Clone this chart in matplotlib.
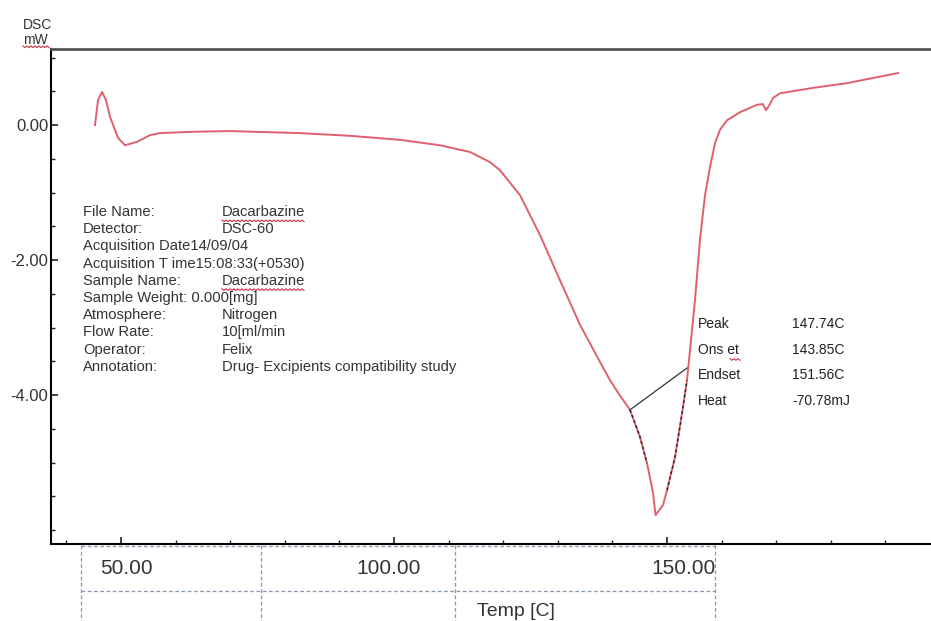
import matplotlib.pyplot as plt
from matplotlib.lines import Line2D
from matplotlib.ticker import MultipleLocator
import numpy as np

plt.rcParams['font.family'] = ['Liberation Sans', 'DejaVu Sans']

# DSC curve (temperature in C, heat flow in mW)
temp = [45.24, 45.79, 46.52, 47.25, 47.99, 49.45, 50.73, 52.93, 55.31, 57.14,
        63.19, 69.96, 82.78, 91.94, 101.10, 108.42, 113.92, 117.58, 119.41, 123.08,
        126.74, 130.40, 134.07, 137.73, 139.56, 141.39, 143.22, 145.05, 146.34, 147.44,
        147.90, 149.27, 150.00, 151.47, 152.93, 153.66, 154.40, 155.13, 156.04, 156.96,
        157.88, 158.79, 159.71, 160.99, 163.37, 166.48, 167.58, 168.13, 168.86, 169.41,
        170.70, 176.74, 182.97, 192.31]
dsc = [0.00, 0.37, 0.49, 0.37, 0.12, -0.19, -0.30, -0.25, -0.15, -0.12,
       -0.10, -0.09, -0.12, -0.16, -0.22, -0.30, -0.40, -0.55, -0.67, -1.04,
       -1.63, -2.30, -2.96, -3.51, -3.78, -4.01, -4.22, -4.62, -5.01, -5.45,
       -5.78, -5.63, -5.41, -4.92, -4.18, -3.78, -3.19, -2.59, -1.70, -1.04,
       -0.62, -0.27, -0.07, 0.07, 0.19, 0.30, 0.31, 0.22, 0.31, 0.40,
       0.47, 0.55, 0.62, 0.77]

# integration baseline (onset side -> endset side)
base_t = [143.22, 153.66]
base_v = [-4.22, -3.60]

y_ticks = [0, -2, -4]
y_labels = ["0.00", "-2.00", "-4.00"]
x_labels = ["50.00", "100.00", "150.00"]

info_keys = ["File Name:", "Detector:", "Acquisition Date14/09/04",
             "Acquisition T ime15:08:33(+0530)", "Sample Name:",
             "Sample Weight: 0.000[mg]", "Atmosphere:", "Flow Rate:",
             "Operator:", "Annotation:"]
info_vals = ["Dacarbazine", "DSC-60", "", "", "Dacarbazine", "",
             "Nitrogen", "10[ml/min", "Felix", "Drug- Excipients compatibility study"]

res_keys = ["Peak", "Ons et", "Endset", "Heat"]
res_vals = ["147.74C", "143.85C", "151.56C", "-70.78mJ"]

W, H = 931, 621
fig = plt.figure(figsize=(W / 100, H / 100), dpi=100)


def fx(x):
    return x / W


def fy(y):
    return 1 - y / H


ax = fig.add_axes([fx(51), fy(544), (W - 51) / W, (544 - 49) / H])
ax.set_xlim(37.18, 198.35)
ax.set_ylim(-6.207, 1.126)

red = "#e0606e"
ax.plot(temp, dsc, color=red, lw=1.4, zorder=3)

# dark dotted overlay on the flanks of the peak
t_arr = np.array(temp)
v_arr = np.array(dsc)
left = (t_arr >= base_t[0]) & (t_arr <= 147.0)
right = (t_arr >= 150.0) & (t_arr <= base_t[1])
ax.plot(t_arr[left], v_arr[left], color="#222222", lw=1.0, ls=(0, (2, 2)), zorder=4)
ax.plot(t_arr[right], v_arr[right], color="#222222", lw=1.0, ls=(0, (2, 2)), zorder=4)
ax.plot(base_t, base_v, color="#333333", lw=0.9, zorder=4)

# axes styling
ax.spines["right"].set_visible(False)
ax.spines["left"].set_linewidth(1.5)
ax.spines["bottom"].set_linewidth(1.5)
ax.spines["top"].set_linewidth(2.0)
ax.spines["top"].set_color("#555555")

ax.xaxis.set_major_locator(MultipleLocator(50))
ax.xaxis.set_minor_locator(MultipleLocator(10))
ax.set_yticks(y_ticks)
ax.set_yticklabels(y_labels)
ax.yaxis.set_minor_locator(MultipleLocator(0.5))
ax.tick_params(axis="both", which="both", direction="in", colors="#222222")
ax.tick_params(axis="x", which="major", length=5, width=1.2, labelbottom=False)
ax.tick_params(axis="x", which="minor", length=3, width=1)
ax.tick_params(axis="y", which="major", length=5, width=1.2, pad=2,
               labelsize=12, labelcolor="#333333")
ax.tick_params(axis="y", which="minor", length=3, width=1)

# y axis title
fig.text(fx(23), fy(25), "DSC", fontsize=10, color="#333333", va="center", ha="left")
fig.text(fx(23), fy(40), "mW", fontsize=10, color="#333333", va="center", ha="left")


def wavy(x0, x1, y):
    xs = np.arange(x0, x1 + 1, 2.0)
    ys = y + np.where(np.arange(len(xs)) % 2 == 0, 0, 1.6)
    fig.add_artist(Line2D(fx(xs), fy(ys), color="#d03040", lw=0.8))


wavy(23, 50, 46)

# info block
y0, dy = 212, 17.2
for i, (k, v) in enumerate(zip(info_keys, info_vals)):
    yy = y0 + i * dy
    ax.text(fx(83), fy(yy), k, transform=fig.transFigure, fontsize=10.6,
            color="#333333", va="center", ha="left")
    if v:
        ax.text(fx(222), fy(yy), v, transform=fig.transFigure, fontsize=10.6,
                color="#333333", va="center", ha="left")
wavy(222, 305, y0 + 8)
wavy(222, 305, y0 + 4 * dy + 8)

# peak results
for i, (k, v) in enumerate(zip(res_keys, res_vals)):
    yy = 324 + i * 25.7
    fig.text(fx(698), fy(yy), k, fontsize=10, color="#222222", va="center", ha="left")
    fig.text(fx(792), fy(yy), v, fontsize=10, color="#222222", va="center", ha="left")
wavy(730, 740, 324 + 25.7 + 9)

# bottom label table
grid_c = "#8797ac"
for x in [81, 261, 455, 715]:
    fig.add_artist(Line2D([fx(x), fx(x)], [fy(545), 0], color=grid_c, lw=0.9,
                          ls=(0, (3, 2)), zorder=0))
for y in [546, 591]:
    fig.add_artist(Line2D([fx(81), fx(715)], [fy(y), fy(y)], color=grid_c, lw=0.9,
                          ls=(0, (3, 2)), zorder=0))
fig.text(fx(100), fy(568), x_labels[0], fontsize=15, color="#333333", va="center", ha="left")
fig.text(fx(421), fy(568), x_labels[1], fontsize=15, color="#333333", va="center", ha="right")
fig.text(fx(716), fy(568), x_labels[2], fontsize=15, color="#333333", va="center", ha="right")
fig.text(fx(477), fy(611), "Temp [C]", fontsize=14, color="#333333", va="center", ha="left")

fig.savefig("out.png", dpi=100)
